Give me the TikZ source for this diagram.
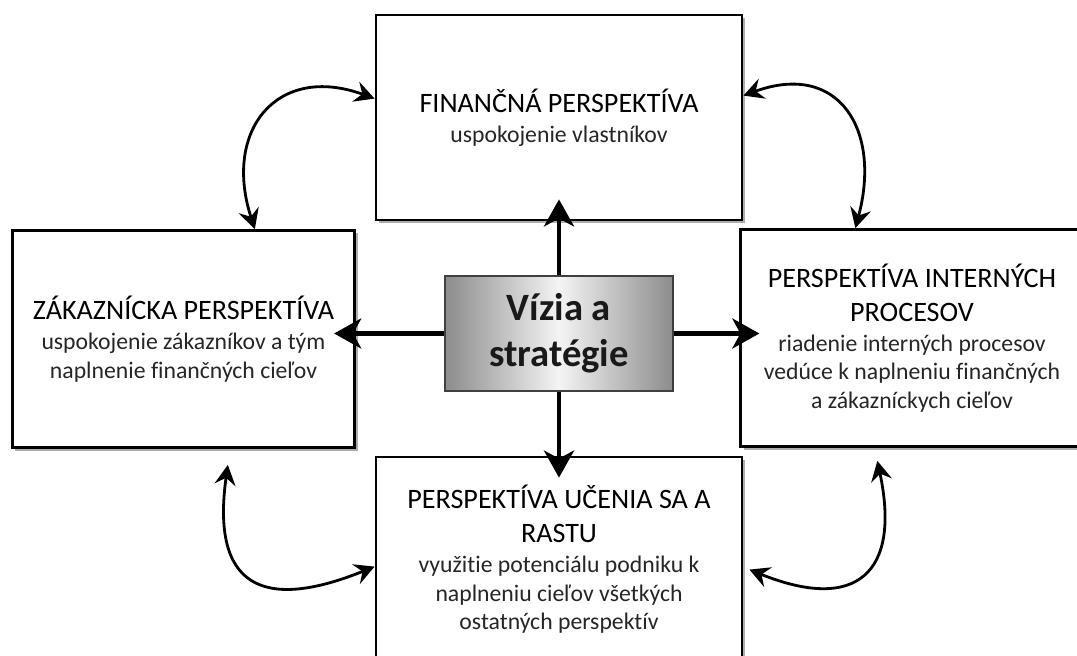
\documentclass[tikz,border=0pt]{standalone}
\usepackage{fontspec}
\setmainfont{Carlito}[Ligatures=NoCommon]
\usetikzlibrary{arrows.meta, calc, shadows}
\definecolor{frgray}{HTML}{404040}
\definecolor{edgegray}{HTML}{8C8C8C}
\definecolor{midgray}{HTML}{F4F4F4}
\definecolor{subtxt}{HTML}{262626}
\newcommand{\headfont}{\fontsize{16}{19.2}\selectfont}
\newcommand{\bodyfont}{\fontsize{13.5}{16.2}\selectfont}

\begin{document}
\begin{tikzpicture}[>={Stealth[length=4mm, width=4.2mm, inset=1.4mm]},
  persp/.style={draw=black, line width=1.6pt, fill=white, align=center,
    text=subtxt, font=\bodyfont, minimum width=7.32cm, minimum height=4.1cm,
    drop shadow={shadow xshift=0.6mm, shadow yshift=-0.6mm, fill=black!40, opacity=0.8}},
  side/.style={persp, minimum width=6.85cm, minimum height=4.34cm},
  core/.style={draw=frgray, line width=0.8pt, left color=edgegray, right color=edgegray,
    middle color=midgray, minimum width=4.56cm, minimum height=2.3cm, align=center,
    font=\fontsize{22}{26}\selectfont\bfseries, text=black!90},
  bigarrow/.style={line width=2.8pt, -{Stealth[length=5.4mm, width=6mm, inset=1.6mm]}},
  cycle/.style={line width=1.6pt, <->, looseness=1.5}]

% Page
\useasboundingbox (0,0) rectangle (21.54,13.1);
\clip (0,0) rectangle (21.54,13.1);

% The four perspectives
\node[persp] (fin) at (11.18,10.75)
  {{\headfont\color{black} FINANČNÁ PERSPEKTÍVA}\\[1pt] uspokojenie vlastníkov};
\node[side] (cust) at (3.67,6.32)
  {{\headfont\color{black} ZÁKAZNÍCKA PERSPEKTÍVA}\\[1pt] uspokojenie zákazníkov a tým\\ naplnenie finančných cieľov};
\node[side] (proc) at (18.24,6.34)
  {{\headfont\color{black} PERSPEKTÍVA INTERNÝCH}\\[3pt]{\headfont\color{black} PROCESOV}\\[1pt]
   riadenie interných procesov\\ vedúce k naplneniu finančných\\ a zákazníckych cieľov};
\node[persp] (learn) at (11.18,1.91)
  {{\headfont\color{black} PERSPEKTÍVA UČENIA SA A}\\[3pt]{\headfont\color{black} RASTU}\\[1pt]
   využitie potenciálu podniku k\\ naplneniu cieľov všetkých\\ ostatných perspektív};

% Vision and strategy in the middle
\node[core] (vision) at (11.18,6.43) {Vízia a\\ stratégie};

% Arrows out of the middle
\draw[bigarrow] (vision.north) -- ($(vision.north |- fin.south)+(0,0.44)$);
\draw[bigarrow] (vision.south) -- ($(vision.south |- learn.north)+(0,-0.44)$);
\draw[bigarrow] (vision.west) -- ($(vision.west -| cust.east)+(-0.44,0)$);
\draw[bigarrow] (vision.east) -- ($(vision.east -| proc.west)+(0.4,0)$);

% Links between neighbouring perspectives
\draw[cycle] ($(cust.north west)+(4.88,0)$) to[out=108, in=160] ($(fin.north west)+(0,-1.7)$);
\draw[cycle] ($(fin.north east)+(0,-1.64)$) to[out=20, in=75] ($(proc.north west)+(2.32,0)$);
\draw[cycle, looseness=1.75] ($(cust.south west)+(4.34,-0.32)$) to[out=262, in=202] ($(learn.north west)+(0,-2.22)$);
\draw[cycle, looseness=1.75] ($(proc.south west)+(2.76,-0.26)$) to[out=282, in=338] ($(learn.north east)+(0.12,-2.28)$);

\end{tikzpicture}
\end{document}
